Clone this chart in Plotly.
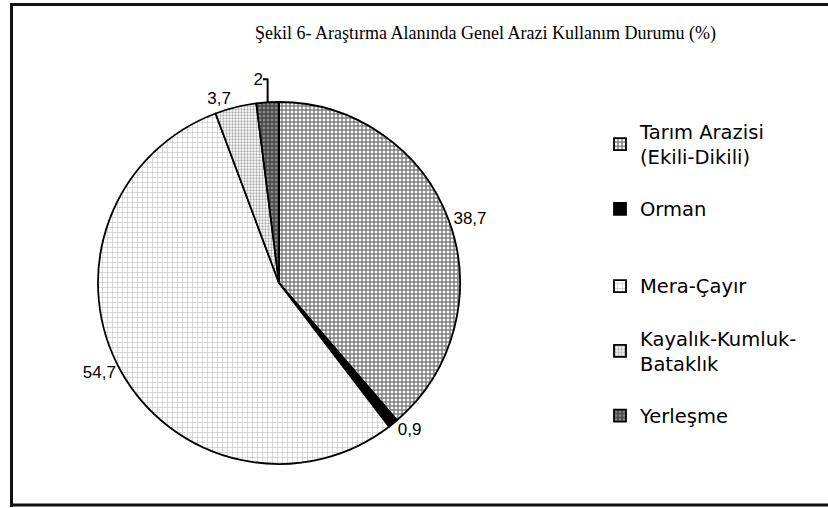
import plotly.graph_objects as go

categories = ["Tarım Arazisi<br>(Ekili-Dikili)", "Orman", "Mera-Çayır",
              "Kayalık-Kumluk-<br>Bataklık", "Yerleşme"]
values = [38.7, 0.9, 54.7, 3.7, 2.0]
value_labels = ["38,7", "0,9", "54,7", "3,7", "2"]
title_text = "Şekil 6- Araştırma Alanında Genel Arazi Kullanım Durumu (%)"

NB = "\u00a0"
def legend_text(label):
    # single-line entries get blank lines above/below for the wide legend spacing
    body = label if "<br>" in label else NB + "<br>" + label + "<br>" + NB
    return "<br>".join('<span style="font-size:19.5px">' + part + "</span>"
                       for part in body.split("<br>"))

legend_labels = [legend_text(c) for c in categories]

patterns = dict(
    shape=["+", "", "+", ".", "+"],
    size=[4, 6, 5, 3, 4],
    solidity=[0.6, 0.3, 0.25, 0.45, 0.6],
    fgcolor=["#000000", "#000000", "#8a8a8a", "#555555", "#000000"],
    bgcolor=["#ffffff", "#000000", "#ffffff", "#ffffff", "#8c8c8c"],
    fillmode="overlay",
)

W, H = 828, 508
fig = go.Figure(go.Pie(
    labels=legend_labels,
    values=values,
    text=value_labels,
    textinfo="text",
    textposition="outside",
    textfont=dict(family="Liberation Sans, Arial, sans-serif", size=17, color="#000"),
    sort=False,
    direction="clockwise",
    rotation=0,
    marker=dict(colors=["#ffffff", "#000000", "#ffffff", "#ffffff", "#8c8c8c"],
                line=dict(color="#000000", width=1.8),
                pattern=patterns),
    domain=dict(x=[98 / W, 460 / W], y=[1 - 464 / H, 1 - 102 / H]),
    hoverinfo="none",
))

def bar(x0, x1, y0, y1):
    # border strip in pixel units (from top-left), converted to paper coords
    return dict(type="rect", xref="paper", yref="paper", layer="above",
                x0=x0 / W, x1=x1 / W, y0=1 - y1 / H, y1=1 - y0 / H,
                fillcolor="#111111", line=dict(width=0))

fig.update_layout(
    width=W, height=H,
    margin=dict(l=0, r=0, t=0, b=0),
    paper_bgcolor="#ffffff",
    plot_bgcolor="#ffffff",
    showlegend=True,
    legend=dict(x=600 / W, y=1 - 113 / H, xanchor="left", yanchor="top",
                font=dict(family="DejaVu Sans, Tahoma, sans-serif", size=19, color="#000"),
                bgcolor="rgba(0,0,0,0)", traceorder="normal"),
    annotations=[dict(text=title_text, x=485 / W, y=1 - 33 / H, xref="paper", yref="paper",
                      xanchor="center", yanchor="middle", showarrow=False,
                      font=dict(family="Liberation Serif, Times New Roman, serif", size=18, color="#000"))],
    shapes=[
        bar(10, W, 3, 6),
        bar(10, 13, 3, 507),
        bar(10, W, 503.5, 506.5),
    ],
)

fig.write_html("out.html", config={"displayModeBar": False},
               post_script="document.body.style.margin='0px';")
